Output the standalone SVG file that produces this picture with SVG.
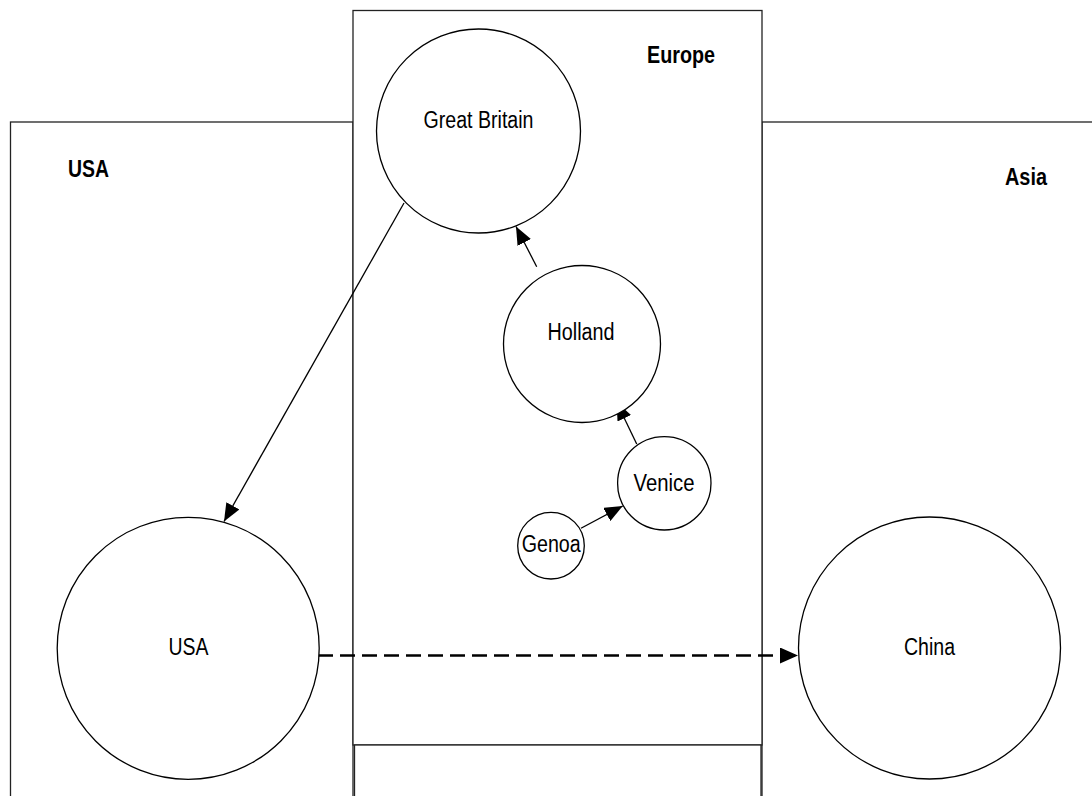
<svg xmlns="http://www.w3.org/2000/svg" width="1092" height="796" viewBox="0 0 1092 796">
<style>
.region{fill:#fff;stroke:#222;stroke-width:1.3}
.node{fill:#fff;stroke:#000;stroke-width:1.3}
.lbl{font-family:"Liberation Sans",Arial,sans-serif;font-size:23px;fill:#000;text-anchor:middle}
.rlbl{font-family:"Liberation Sans",Arial,sans-serif;font-size:23.5px;font-weight:bold;fill:#000}
.conn{fill:none;stroke:#000;stroke-width:1.3}
.dash{fill:none;stroke:#000;stroke-width:2.5;stroke-dasharray:15 7}
</style>
<defs>
<marker id="arr" viewBox="0 0 18 15" refX="18" refY="7.5" markerWidth="18" markerHeight="15" markerUnits="userSpaceOnUse" orient="auto">
<path d="M0,0 L18,7.5 L0,15 Z" fill="#000"/>
</marker>
<marker id="arrBig" viewBox="0 0 18 16" refX="18" refY="8" markerWidth="18" markerHeight="16" markerUnits="userSpaceOnUse" orient="auto">
<path d="M0,0 L18,8 L0,16 Z" fill="#000"/>
</marker>
</defs>
<rect width="1092" height="796" fill="#fff"/>
<g id="region-usa">
<rect class="region" x="10.5" y="122" width="342.5" height="700"/>
<text class="rlbl" x="68" y="177" textLength="41" lengthAdjust="spacingAndGlyphs">USA</text>
</g>
<g id="region-asia">
<rect class="region" x="762" y="122" width="350" height="700"/>
<text class="rlbl" x="1005" y="185" textLength="42" lengthAdjust="spacingAndGlyphs">Asia</text>
</g>
<g id="region-europe">
<rect class="region" x="353" y="10.5" width="409" height="734.5"/>
<text class="rlbl" x="647" y="63" textLength="68" lengthAdjust="spacingAndGlyphs">Europe</text>
</g>
<g id="region-bottom">
<rect class="region" x="354.5" y="745" width="406.5" height="80"/>
</g>
<g id="connectors">
<line class="conn" x1="404" y1="203" x2="224" y2="521.5" marker-end="url(#arr)"/>
<line class="conn" x1="536.7" y1="266.7" x2="516" y2="226.5" marker-end="url(#arr)"/>
<line class="conn" x1="636.7" y1="444" x2="616.5" y2="402" marker-end="url(#arr)"/>
<line class="conn" x1="581" y1="528.3" x2="622.7" y2="506" marker-end="url(#arr)"/>
<line class="dash" x1="318" y1="655.5" x2="798" y2="655.5" marker-end="url(#arrBig)"/>
</g>
<g id="node-great-britain">
<circle class="node" cx="478.5" cy="131" r="102"/>
<text class="lbl" x="478.5" y="128" textLength="110" lengthAdjust="spacingAndGlyphs">Great Britain</text>
</g>
<g id="node-holland">
<circle class="node" cx="582" cy="344" r="78.5"/>
<text class="lbl" x="581" y="340" textLength="67" lengthAdjust="spacingAndGlyphs">Holland</text>
</g>
<g id="node-venice">
<circle class="node" cx="664.3" cy="483.3" r="46.7"/>
<text class="lbl" x="664" y="490.7" textLength="61" lengthAdjust="spacingAndGlyphs">Venice</text>
</g>
<g id="node-genoa">
<circle class="node" cx="551" cy="545.7" r="33.3"/>
<text class="lbl" x="551.2" y="552.3" textLength="59" lengthAdjust="spacingAndGlyphs">Genoa</text>
</g>
<g id="node-usa">
<circle class="node" cx="188.2" cy="648.3" r="131"/>
<text class="lbl" x="188.5" y="655" textLength="40" lengthAdjust="spacingAndGlyphs">USA</text>
</g>
<g id="node-china">
<circle class="node" cx="929.5" cy="648" r="131"/>
<text class="lbl" x="929.5" y="655" textLength="51" lengthAdjust="spacingAndGlyphs">China</text>
</g>
</svg>
